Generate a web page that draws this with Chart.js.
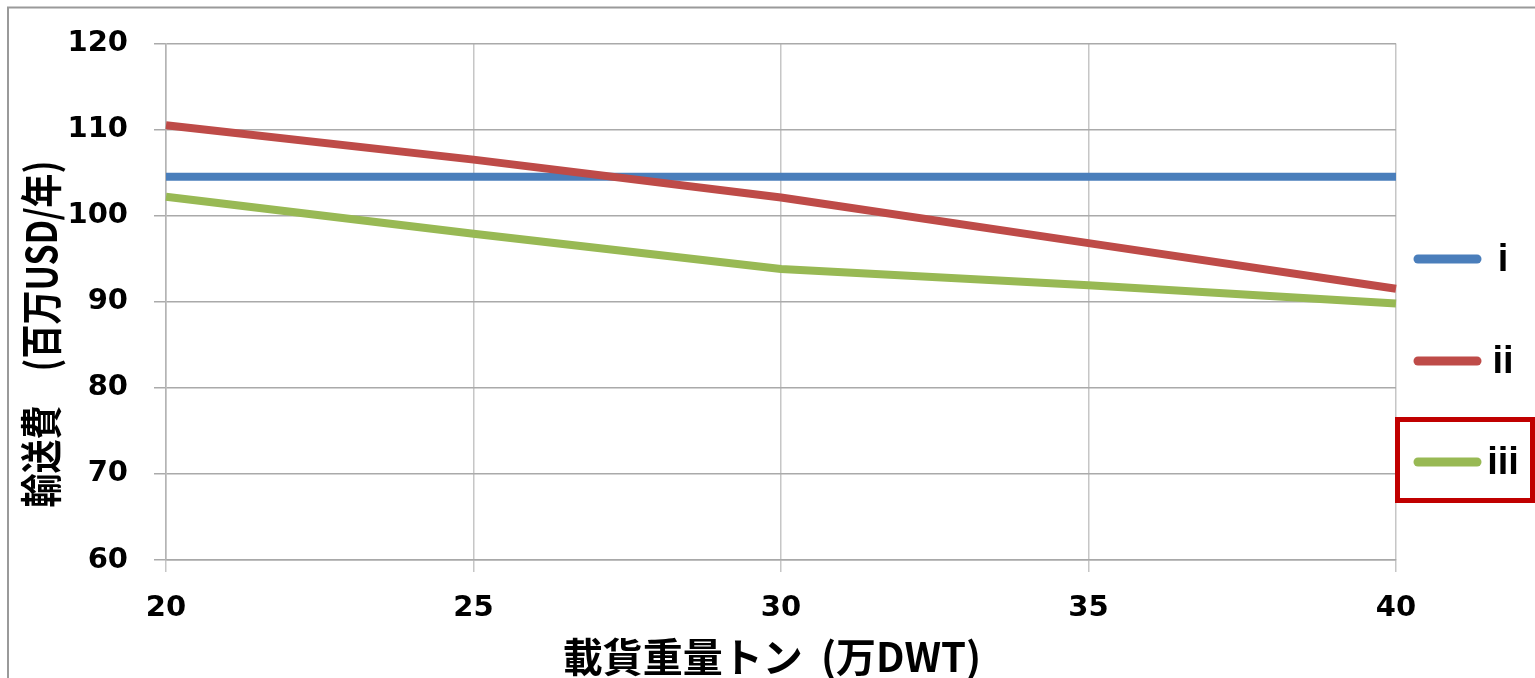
<!DOCTYPE html>
<html>
<head>
<meta charset="utf-8">
<script src="https://cdn.jsdelivr.net/npm/chart.js@4/dist/chart.umd.min.js"></script>
<style>
  html, body { margin: 0; padding: 0; background: #ffffff; }
  #wrap { position: relative; width: 1535px; height: 678px; }
</style>
</head>
<body>
<div id="wrap"><canvas id="c" width="1535" height="678"></canvas></div>
<script>
// Deadweight tonnage (10,000 DWT) on the horizontal axis
const capacity = [20, 25, 30, 35, 40];
// Annual transport cost (million USD / year) per case
const caseI   = [104.5, 104.5, 104.5, 104.5, 104.5];
const caseII  = [110.5, 106.5, 102.1, 96.8, 91.5];
const caseIII = [102.2, 97.9, 93.8, 91.9, 89.8];
const seriesLabels = ['i', 'ii', 'iii'];
const seriesColors = ['#4a7ebb', '#be4b48', '#98b954'];
const yTicks = [60, 70, 80, 90, 100, 110, 120];
const xTicks = [20, 25, 30, 35, 40];
const xTitle = '載貨重量トン  (万DWT)';
const yTitle = '輸送費\u3000(百万USD/年)';
const highlighted = 2; // legend entry framed in red

const toPoints = vals => capacity.map((x, i) => ({ x: x, y: vals[i] }));
const seriesValues = [caseI, caseII, caseIII];

const datasets = seriesValues.map((vals, i) => ({
  label: seriesLabels[i],
  data: toPoints(vals),
  borderColor: seriesColors[i],
  backgroundColor: seriesColors[i],
  borderWidth: 8,
  borderCapStyle: 'butt',
  borderJoinStyle: 'round',
  pointRadius: 0,
  tension: 0,
  fill: false,
  clip: false,
  order: 3 - i
}));

// Outer frame, axis titles and the right-hand legend
const decorations = {
  id: 'decorations',
  afterDraw(chart) {
    const ctx = chart.ctx;
    ctx.save();

    // frame edges
    ctx.strokeStyle = '#9a9a9a';
    ctx.lineWidth = 2;
    ctx.beginPath();
    ctx.moveTo(8, 678);
    ctx.lineTo(8, 7.5);
    ctx.lineTo(1535, 7.5);
    ctx.stroke();

    ctx.fillStyle = '#000000';

    // x axis title
    ctx.font = 'bold 40px "Noto Sans CJK JP"';
    ctx.textAlign = 'center';
    ctx.textBaseline = 'middle';
    ctx.fillText(xTitle, 772, 657);

    // y axis title (rotated, slightly condensed along the text)
    ctx.save();
    ctx.translate(41, 334);
    ctx.rotate(-Math.PI / 2);
    ctx.scale(0.85, 1.05);
    ctx.fillText(yTitle, 0, 0);
    ctx.restore();

    // legend
    const rows = [259, 361, 462];
    chart.data.datasets.forEach((ds, i) => {
      const y = rows[i];
      ctx.strokeStyle = ds.borderColor;
      ctx.lineWidth = 9;
      ctx.lineCap = 'round';
      ctx.beginPath();
      ctx.moveTo(1418, y);
      ctx.lineTo(1477, y);
      ctx.stroke();
      ctx.fillStyle = '#000000';
      ctx.font = 'bold 38px "Liberation Sans"';
      ctx.textAlign = 'center';
      ctx.textBaseline = 'alphabetic';
      ctx.fillText(ds.label, 1503, y + 12);
    });

    // highlight box round the chosen legend entry
    const hy = rows[highlighted];
    ctx.strokeStyle = '#c00000';
    ctx.lineWidth = 5;
    ctx.lineCap = 'butt';
    ctx.strokeRect(1397.5, hy - 42.5, 135, 81);

    ctx.restore();
  }
};

new Chart(document.getElementById('c'), {
  type: 'line',
  data: { datasets: datasets },
  options: {
    responsive: false,
    animation: false,
    devicePixelRatio: 1,
    layout: { padding: { top: 43, right: 139, bottom: 0, left: 0 } },
    plugins: { legend: { display: false }, tooltip: { enabled: false }, title: { display: false } },
    scales: {
      x: {
        type: 'linear',
        min: xTicks[0],
        max: xTicks[xTicks.length - 1],
        afterBuildTicks(scale) { scale.ticks = xTicks.map(v => ({ value: v })); },
        afterFit(scale) { scale.height = 118; },
        grid: { color: '#c6c6c6', lineWidth: 1.5, tickLength: 12, drawTicks: true },
        border: { color: '#a8a8a8', width: 1.5 },
        ticks: {
          color: '#000000',
          padding: 19,
          maxRotation: 0,
          font: { family: '"DejaVu Sans"', size: 29, weight: 'bold' }
        }
      },
      y: {
        type: 'linear',
        min: yTicks[0],
        max: yTicks[yTicks.length - 1],
        afterBuildTicks(scale) { scale.ticks = yTicks.map(v => ({ value: v })); },
        afterFit(scale) { scale.width = 166; },
        grid: { color: '#aaaaaa', lineWidth: 1.5, tickLength: 12, drawTicks: true },
        border: { color: '#b4b4b4', width: 1.5 },
        ticks: {
          color: '#000000',
          padding: 26,
          font: { family: '"DejaVu Sans"', size: 29, weight: 'bold' }
        }
      }
    }
  },
  plugins: [decorations]
});
</script>
</body>
</html>
